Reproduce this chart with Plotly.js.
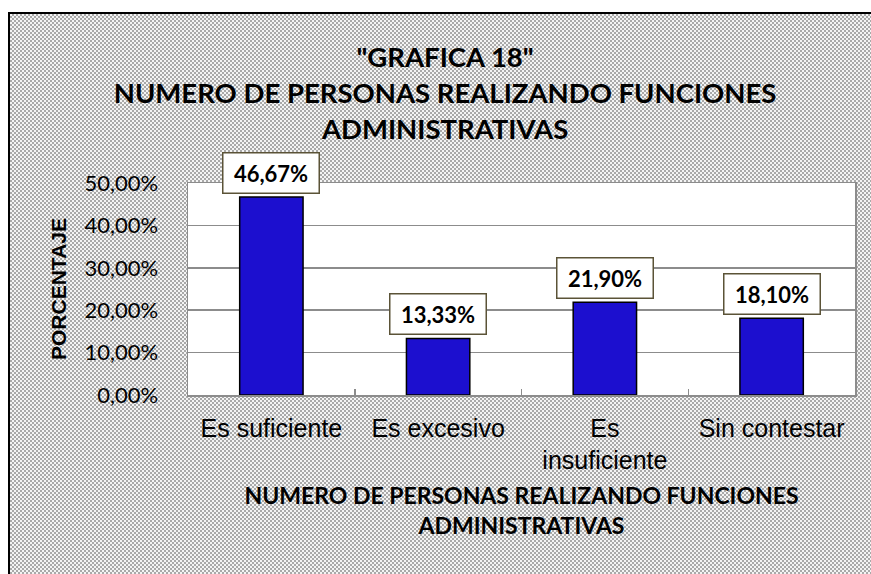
<!DOCTYPE html>
<html>
<head>
<meta charset="utf-8">
<script src="https://cdn.plot.ly/plotly-3.0.1.min.js"></script>
<style>
  html, body { margin: 0; padding: 0; background: #ffffff; overflow: hidden; width: 871px; height: 574px; }
  #frame {
    position: absolute; left: 8px; top: 12px; width: 880px; height: 580px;
    border-left: 2px solid #000; border-top: 2px solid #000;
    background: repeating-conic-gradient(#a9a9a9 0 25%, #f4f4f4 0 50%) 0 0 / 4px 4px;
  }
  #chart { position: absolute; left: 0; top: 0; width: 871px; height: 574px; }
</style>
</head>
<body>
<div id="frame"></div>
<div id="chart"></div>
<script>
const categories = ["Es suficiente", "Es excesivo", "Es<br>insuficiente", "Sin contestar"];
const values = [0.4667, 0.1333, 0.2190, 0.1810];
const yTickVals = [0, 0.1, 0.2, 0.3, 0.4, 0.5];

function fmtPct(v) {
  return (v * 100).toFixed(2).replace('.', ',') + '%';
}

const trace = {
  type: 'bar',
  x: categories,
  y: values,
  marker: { color: '#1c0fcf', line: { color: '#000000', width: 1.5 } },
  hoverinfo: 'skip'
};

const annotations = categories.map((c, i) => ({
  x: c, y: values[i], xref: 'x', yref: 'y',
  text: '<b>' + fmtPct(values[i]) + '</b>',
  showarrow: false, yanchor: 'bottom', yshift: 3,
  font: { family: 'Lato, sans-serif', size: 22, color: '#000' },
  bgcolor: '#ffffff', bordercolor: '#5b5337', borderwidth: 1.5,
  borderpad: 3, width: 89, height: 33
}));

const layout = {
  width: 871, height: 574,
  margin: { l: 188, r: 16, t: 183, b: 179, pad: 0 },
  paper_bgcolor: 'rgba(0,0,0,0)',
  plot_bgcolor: '#ffffff',
  separators: ',.',
  showlegend: false,
  bargap: 0.62,
  title: {
    text: '<b>"GRAFICA 18"<br>NUMERO DE PERSONAS REALIZANDO FUNCIONES<br>ADMINISTRATIVAS</b>',
    font: { family: 'Lato, sans-serif', size: 27.5, color: '#000' },
    x: 0.511, xref: 'container', xanchor: 'center',
    y: 1 - 67 / 574, yref: 'container', yanchor: 'middle'
  },
  xaxis: {
    type: 'category',
    showline: true, linecolor: '#8c8c8c', linewidth: 1.5, mirror: true,
    ticks: 'inside', tickson: 'boundaries', ticklen: 6, tickcolor: '#8c8c8c', tickwidth: 1.5,
    showgrid: false,
    tickfont: { family: 'Liberation Sans, Arial, sans-serif', size: 25, color: '#000' },
    ticklabelstandoff: 10,
    title: {
      text: '<b>NUMERO DE PERSONAS REALIZANDO FUNCIONES<br>ADMINISTRATIVAS</b>',
      font: { family: 'Lato, sans-serif', size: 23, color: '#000' },
      standoff: 15
    }
  },
  yaxis: {
    range: [0, 0.5],
    tickvals: yTickVals,
    tickformat: '.2%',
    showline: true, linecolor: '#8c8c8c', linewidth: 1.5, mirror: true,
    showgrid: true, gridcolor: '#8c8c8c', gridwidth: 1.5,
    zeroline: false,
    ticks: '',
    tickfont: { family: 'Lato, sans-serif', size: 22, color: '#000' },
    ticklabelstandoff: 24,
    title: {
      text: '<b>PORCENTAJE</b>',
      font: { family: 'Liberation Sans, Arial, sans-serif', size: 21, color: '#000' },
      standoff: 12
    }
  },
  annotations: annotations
};

Plotly.newPlot('chart', [trace], layout, { displayModeBar: false, staticPlot: true });
</script>
</body>
</html>
